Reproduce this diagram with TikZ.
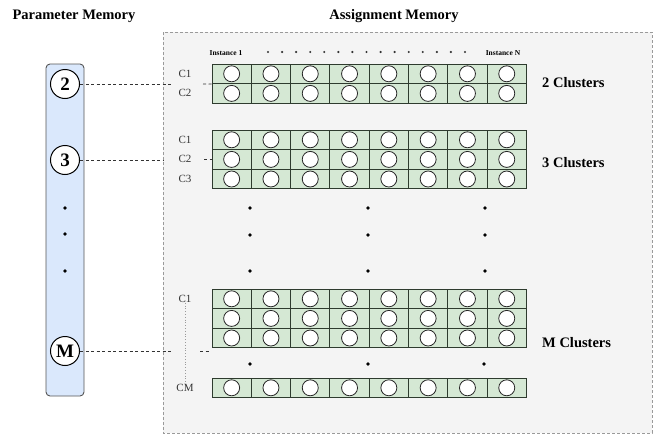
\documentclass[tikz,border=0pt]{standalone}
\usepackage{fontspec}
\setmainfont{Liberation Serif}
\usetikzlibrary{positioning}
\definecolor{boxfill}{HTML}{F4F4F4}
\definecolor{boxline}{HTML}{9A9A9A}
\definecolor{cellfill}{HTML}{D5E8D4}
\definecolor{cellline}{HTML}{2E3B2E}
\definecolor{colfill}{HTML}{DAE8FC}
\definecolor{colline}{HTML}{555555}
\definecolor{labeltext}{HTML}{333333}
% one row of 8 instance cells, #1 = name, #2 = y of the row centre
\newcommand{\slotrow}[2]{%
  \foreach \i in {1,...,8} {
    \node[cell] (#1-\i) at ({231.65+39.3*(\i-1)},#2) {};
    \node[slot] (#1-\i-o) at (#1-\i.center) {};
  }}

\begin{document}
\begin{tikzpicture}[x=1pt, y=-1pt,
  title/.style={font=\bfseries\fontsize{14.5}{17}\selectfont, inner sep=0},
  clus/.style={font=\bfseries\fontsize{14.5}{17}\selectfont, inner sep=0, anchor=west},
  membox/.style={draw=boxline, fill=boxfill, densely dashed, line width=0.7pt},
  pcol/.style={draw=colline, fill=colfill, rounded corners=4pt, line width=0.9pt,
    minimum width=38pt, minimum height=332pt, inner sep=0},
  pnum/.style={circle, draw=black, fill=white, line width=1pt, minimum size=29pt,
    inner sep=0, font=\bfseries\fontsize{19}{20}\selectfont},
  cell/.style={draw=cellline, fill=cellfill, line width=0.9pt,
    minimum width=39.3pt, minimum height=19.6pt, inner sep=0},
  slot/.style={circle, draw=black!85, fill=white, line width=0.8pt,
    minimum size=16pt, inner sep=0},
  clab/.style={font=\fontsize{11}{13}\selectfont, text=labeltext, inner sep=0},
  inst/.style={font=\bfseries\fontsize{7.5}{9}\selectfont, inner sep=0},
  bigdot/.style={circle, fill=black, minimum size=3.6pt, inner sep=0},
  tinydot/.style={circle, fill=black!80, minimum size=2.4pt, inner sep=0},
  link/.style={black!80, line width=0.8pt, dash pattern=on 3pt off 2.5pt}
]
\useasboundingbox (0,0) rectangle (659,434);

% titles
\node[title] (ptitle) at (74,16) {Parameter Memory};
\node[title] (atitle) at (394,16) {Assignment Memory};

% assignment memory area
\draw[membox] (163,32) rectangle (652,433);

% parameter memory column
\node[pcol] (pcol) at (65,230) {};
\node[pnum] (p2) at (65,84) {2};
\node[pnum] (p3) at (65,160) {3};
\node[pnum] (pm) at (65,351) {M};
\foreach \y [count=\k] in {208,234,271}
  \node[bigdot] (pd\k) at (65,\y) {};

% instance header
\node[inst] (inst1) at (226,53) {Instance 1};
\node[inst] (instn) at (503,53) {Instance N};
\foreach \k in {0,...,14}
  \node[tinydot] (td\k) at ({268+14.07*\k},52) {};

% 2 clusters
\slotrow{b2r1}{73.8}
\slotrow{b2r2}{93.4}
\node[clab] (b2c1) at (185,73.8) {C1};
\node[clab] (b2c2) at (185,93.4) {C2};
\node[clus] (k2) at (542,83) {2 Clusters};

% 3 clusters
\slotrow{b3r1}{139.8}
\slotrow{b3r2}{159.4}
\slotrow{b3r3}{179}
\node[clab] (b3c1) at (185,139.8) {C1};
\node[clab] (b3c2) at (185,159.4) {C2};
\node[clab] (b3c3) at (185,179) {C3};
\node[clus] (k3) at (542,163) {3 Clusters};

% vertical dots between the blocks
\foreach \x in {250,368,485}
  \foreach \y in {208,235,271}
    \node[bigdot] (md-\x-\y) at (\x,\y) {};

% M clusters
\slotrow{bmr1}{298.8}
\slotrow{bmr2}{318.4}
\slotrow{bmr3}{338}
\foreach \x in {250,368,484}
  \node[bigdot] (gd-\x) at (\x,364) {};
\slotrow{bmrm}{387.8}
\node[clab] (bmc1) at (185,299) {C1};
\node[clab] (bmcm) at (185,388) {CM};
\draw[boxline, dotted, line width=0.8pt] (bmc1.south) -- (bmcm.north);
\node[clus] (km) at (542,343) {M Clusters};

% links from parameter memory
\coordinate (p2end) at (172,84);
\coordinate (p2in) at (203,84);
\draw[link] (p2) -- (p2end);
\draw[link] (p2in) -- (b2r1-1.south west);
\coordinate (p3end) at (163,160);
\coordinate (p3in) at (204,159.4);
\draw[link] (p3) -- (p3end);
\draw[link] (p3in) -- (b3r2-1.west);
\coordinate (pmend) at (172,351);
\coordinate (pmin) at (200,351);
\coordinate (pmin2) at (210,351);
\draw[link] (pm) -- (pmend);
\draw[link] (pmin) -- (pmin2);
\end{tikzpicture}
\end{document}
